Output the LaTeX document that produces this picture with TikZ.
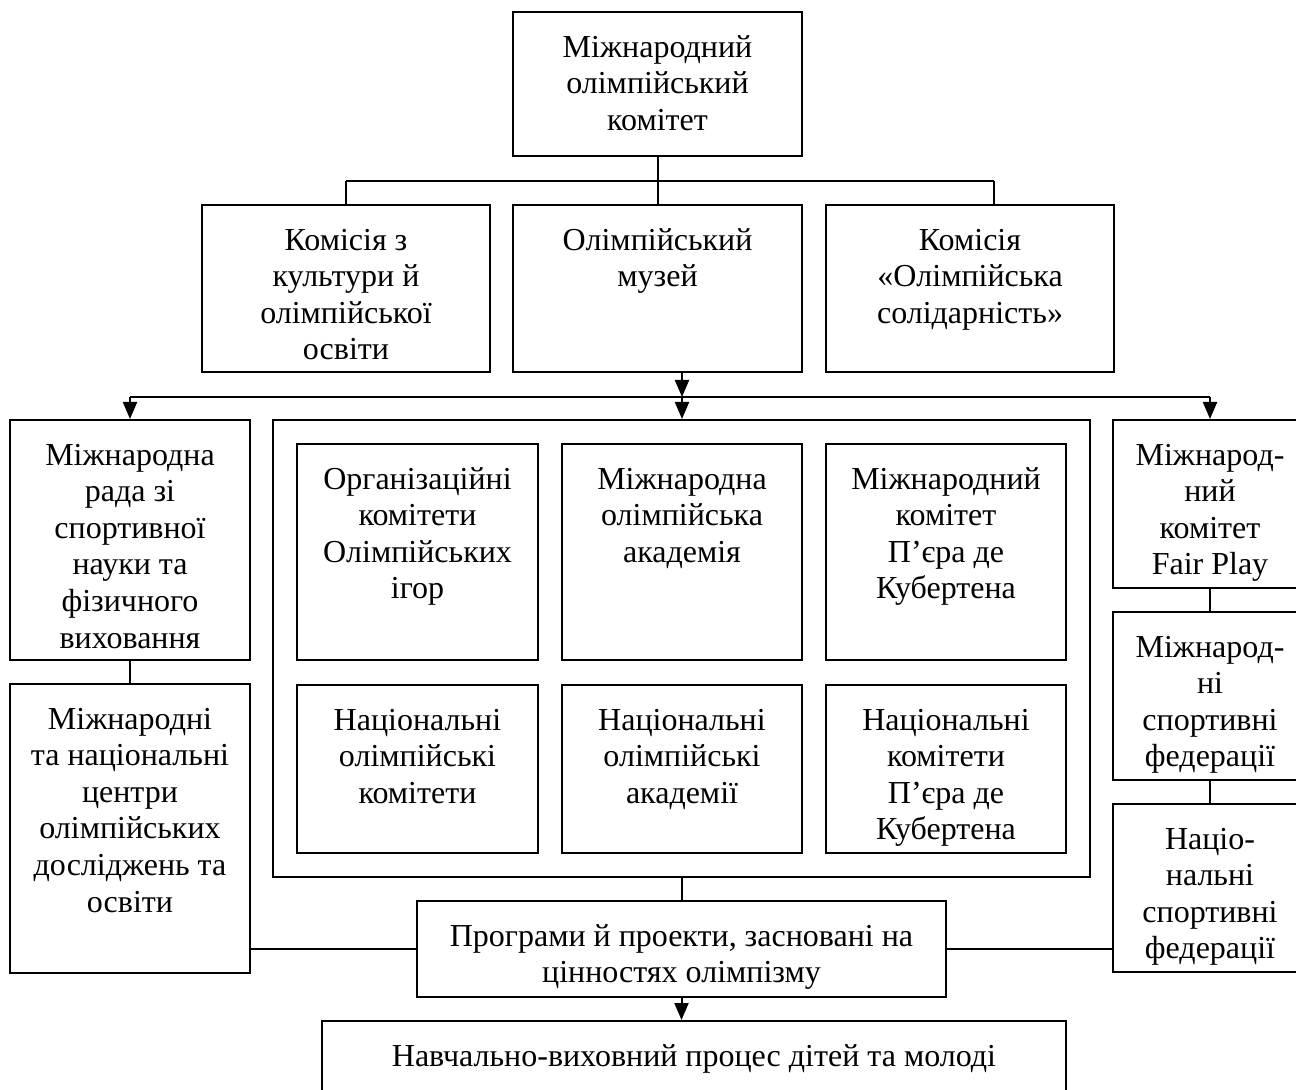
\documentclass[tikz,border=0pt]{standalone}
\usepackage{fontspec}
\setmainfont{Liberation Serif}
\usetikzlibrary{arrows.meta,fit,calc}
\tikzset{
  box/.style={draw, line width=1pt, inner sep=0pt, rectangle},
  txt/.style={anchor=north, inner sep=0pt, align=center, font=\fontsize{16}{18.3}\selectfont},
  conn/.style={line width=1pt},
  arr/.style={line width=1pt, -{Triangle[length=8.5pt,width=7pt]}},
}
\newcommand\mybox[6]{%
  \node[box, fit={(#2,#3) (#4,#5)}] (#1) {};
  \node[txt] (#1-t) at ({(#2+#4)/2},{#3+19}) {\strut #6};
}
\begin{document}
\begin{tikzpicture}[x=0.5pt,y=-0.5pt]
\useasboundingbox (0,0) rectangle (1296,1090);
\clip (0,0) rectangle (1296,1090);
% top
\mybox{top}{513}{12}{802}{156}{Міжнародний\\олімпійський\\комітет}
% row 2
\mybox{k1}{202}{205}{490}{372}{Комісія з\\культури й\\олімпійської\\освіти}
\mybox{museum}{513}{205}{802}{372}{Олімпійський\\музей}
\mybox{k2}{826}{205}{1114}{372}{Комісія\\«Олімпійська\\солідарність»}
% left column
\mybox{left1}{10}{420}{250}{660}{Міжнародна\\рада зі\\спортивної\\науки та\\фізичного\\виховання}
\mybox{left2}{10}{684}{250}{973}{Міжнародні\\та національні\\центри\\олімпійських\\досліджень та\\освіти}
% big container
\node[box, fit={(273,420) (1090,877)}] (big) {};
\mybox{in1}{297}{444}{538}{660}{Організаційні\\комітети\\Олімпійських\\ігор}
\mybox{in2}{562}{444}{802}{660}{Міжнародна\\олімпійська\\академія}
\mybox{in3}{826}{444}{1066}{660}{Міжнародний\\комітет\\П’єра де\\Кубертена}
\mybox{in4}{297}{685}{538}{853}{Національні\\олімпійські\\комітети}
\mybox{in5}{562}{685}{802}{853}{Національні\\олімпійські\\академії}
\mybox{in6}{826}{685}{1066}{853}{Національні\\комітети\\П’єра де\\Кубертена}
% right column
\mybox{fp}{1113}{420}{1307}{588}{Міжнарод-\\ний\\комітет\\Fair Play}
\mybox{ifed}{1113}{612}{1307}{780}{Міжнарод-\\ні\\спортивні\\федерації}
\mybox{nfed}{1113}{804}{1307}{972}{Націо-\\нальні\\спортивні\\федерації}
% programs and bottom
\mybox{prog}{417}{901}{946}{997}{Програми й проекти, засновані на\\цінностях олімпізму}
\mybox{edu}{322}{1021}{1066}{1110}{Навчально-виховний процес дітей та молоді}
% connectors top
\coordinate (tbL) at (346,181);
\coordinate (tbR) at (994,181);
\draw[conn] (top.south) -- (museum.north);
\draw[conn] (tbL) -- (tbR);
\draw[conn] (tbL) -- (k1.north -| tbL);
\draw[conn] (tbR) -- (k2.north -| tbR);
% bus
\coordinate (busL) at (130,397);
\coordinate (busM) at (682,397);
\coordinate (busR) at (1210,397);
\draw[arr] (museum.south -| busM) -- (busM);
\draw[conn] (busL) -- (busR);
\draw[arr] (busL) -- (left1.north -| busL);
\draw[arr] (busM) -- (big.north -| busM);
\draw[arr] (busR) -- (fp.north -| busR);
% columns
\draw[conn] (left1.south) -- (left2.north);
\draw[conn] (fp.south) -- (ifed.north);
\draw[conn] (ifed.south) -- (nfed.north);
% programs
\draw[conn] (big.south) -- (prog.north);
\draw[conn] (left2.east |- prog.west) -- (prog.west);
\draw[conn] (prog.east) -- (prog.east -| nfed.west);
\draw[arr] (prog.south) -- (prog.south |- edu.north);
\end{tikzpicture}
\end{document}
